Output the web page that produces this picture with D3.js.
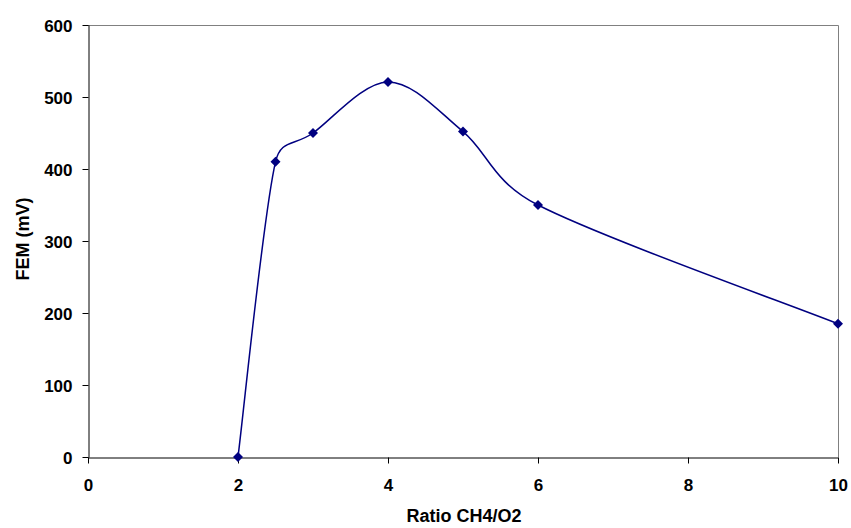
<!DOCTYPE html>
<html>
<head>
<meta charset="utf-8">
<script src="https://cdn.jsdelivr.net/npm/d3@7"></script>
<style>
  body { margin: 0; background: #fff; }
  text { font-family: Arial, "Liberation Sans", sans-serif; font-weight: bold; }
</style>
</head>
<body>
<svg id="chart" width="851" height="528"></svg>
<script>
const ratio = [2, 2.5, 3, 4, 5, 6, 10];
const fem = [0, 410, 450, 521, 452, 350, 185];
const xTicks = [0, 2, 4, 6, 8, 10];
const yTicks = [0, 100, 200, 300, 400, 500, 600];

(function () {
// Excel-style smoothed line: cubic Bezier, tension 1/6, control distance limited to half a segment
function ExcelSmooth(context) { this._context = context; }
ExcelSmooth.prototype = {
  areaStart() {}, areaEnd() {},
  lineStart() { this._pts = []; },
  point(x, y) { this._pts.push([+x, +y]); },
  lineEnd() {
    const p = this._pts, n = p.length, c = this._context;
    if (!n) return;
    c.moveTo(p[0][0], p[0][1]);
    const dist = (a, b) => Math.hypot(b[0] - a[0], b[1] - a[1]);
    for (let i = 0; i < n - 1; i++) {
      const P0 = p[Math.max(i - 1, 0)], P1 = p[i], P2 = p[i + 1], P3 = p[Math.min(i + 2, n - 1)];
      const d12 = dist(P1, P2), d02 = dist(P0, P2), d13 = dist(P1, P3);
      let f0 = 1 / 6, f1 = 1 / 6;
      if (d02 / 6 >= d12 / 2 && d02 > 0) f0 = d12 / 2 / d02;
      if (d13 / 6 >= d12 / 2 && d13 > 0) f1 = d12 / 2 / d13;
      c.bezierCurveTo(
        P1[0] + (P2[0] - P0[0]) * f0, P1[1] + (P2[1] - P0[1]) * f0,
        P2[0] - (P3[0] - P1[0]) * f1, P2[1] - (P3[1] - P1[1]) * f1,
        P2[0], P2[1]);
    }
  }
};
const curveExcel = ctx => new ExcelSmooth(ctx);

const svg = d3.select("#chart");
const mL = 88, mR = 838, mT = 25, mB = 457;

const x = d3.scaleLinear().domain([0, 10]).range([mL, mR]);
const y = d3.scaleLinear().domain([0, 600]).range([mB, mT]);

// plot border (top and right, gray)
svg.append("path")
  .attr("d", `M${mL},${mT + 0.5}H${mR + 0.5}V${mB}`)
  .attr("fill", "none").attr("stroke", "#808080").attr("stroke-width", 1);

const xAxis = svg.append("g").attr("transform", `translate(0,${mB + 0.5})`)
  .call(d3.axisBottom(x).tickValues(xTicks).tickSize(6).tickPadding(15).tickSizeOuter(0).tickFormat(d3.format("d")));
const yAxis = svg.append("g").attr("transform", `translate(${mL + 0.5},0)`)
  .call(d3.axisLeft(y).tickValues(yTicks).tickSize(6).tickPadding(10).tickSizeOuter(0).tickFormat(d3.format("d")));

[xAxis, yAxis].forEach(g => {
  g.selectAll("path.domain").attr("stroke", "#000").attr("stroke-width", 1);
  g.selectAll(".tick line").attr("stroke", "#000");
  g.selectAll(".tick text").attr("font-size", 17).attr("font-weight", "bold")
    .attr("font-family", "Arial, 'Liberation Sans', sans-serif").attr("fill", "#000");
});
yAxis.selectAll(".tick text").attr("dy", "0.36em");

const data = ratio.map((r, i) => ({ x: r, y: fem[i] }));

svg.append("path")
  .datum(data)
  .attr("fill", "none")
  .attr("stroke", "#000080")
  .attr("stroke-width", 1.5)
  .attr("d", d3.line().x(d => x(d.x)).y(d => y(d.y)).curve(curveExcel));

svg.append("g").selectAll("path")
  .data(data).enter().append("path")
  .attr("transform", d => `translate(${x(d.x)},${y(d.y)})`)
  .attr("d", "M0,-5L5,0L0,5L-5,0Z")
  .attr("fill", "#000080");

svg.append("text")
  .attr("x", 464).attr("y", 522)
  .attr("text-anchor", "middle").attr("font-size", 18).attr("fill", "#000")
  .text("Ratio CH4/O2");

svg.append("text")
  .attr("transform", `translate(29,239) rotate(-90)`)
  .attr("text-anchor", "middle").attr("font-size", 18).attr("fill", "#000")
  .text("FEM (mV)");
})();
</script>
</body>
</html>
